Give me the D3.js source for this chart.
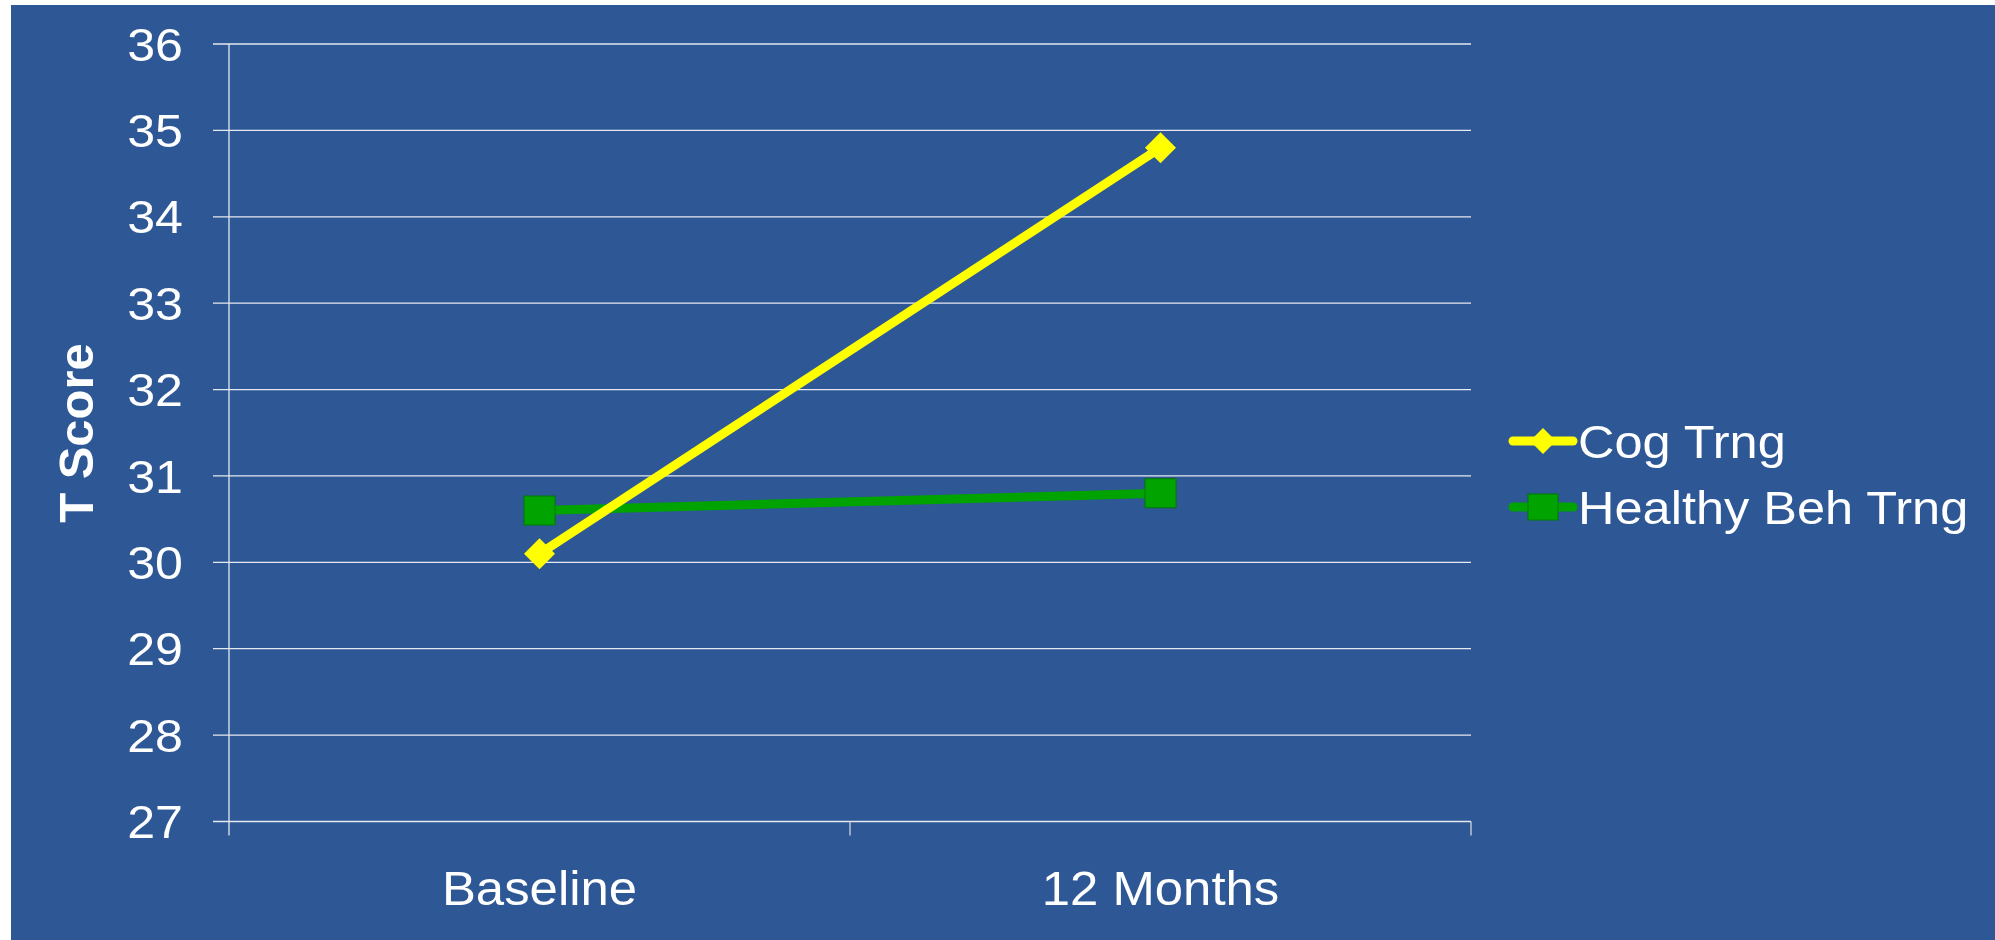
<!DOCTYPE html>
<html><head><meta charset="utf-8">
<script src="https://cdn.jsdelivr.net/npm/d3@7"></script>
<style>html,body{margin:0;padding:0;background:#fff;overflow:hidden}</style>
</head><body>
<script>
const categories = ["Baseline", "12 Months"];
const seriesNames = ["Cog Trng", "Healthy Beh Trng"];
const cogTrng = [30.1, 34.8];
const healthyBehTrng = [30.6, 30.8];
const yTicks = [27, 28, 29, 30, 31, 32, 33, 34, 35, 36];
const yLabel = "T Score";

const W = 1995, H = 940;
const svg = d3.select("body").append("svg").attr("width", W).attr("height", H);
const font = "'Liberation Sans', Arial, sans-serif";

svg.append("rect").attr("x", 11).attr("y", 5).attr("width", W - 11).attr("height", H - 5).attr("fill", "#2D5795");

const x = d3.scaleBand().domain(categories).range([229, 1471]).paddingInner(0).paddingOuter(0);
const y = d3.scaleLinear().domain([27, 36]).range([821.5, 44]);
const cx = c => x(c) + x.bandwidth() / 2;

// gridlines
const g = svg.append("g");
g.selectAll("line.grid").data(yTicks).join("line")
  .attr("x1", 213).attr("x2", 1471)
  .attr("y1", d => y(d)).attr("y2", d => y(d))
  .attr("stroke", "#e6e9ef").attr("stroke-width", 1.3);

// y axis line
g.append("line").attr("x1", 229).attr("x2", 229).attr("y1", y(36)).attr("y2", y(27) + 14)
  .attr("stroke", "#e6e9ef").attr("stroke-width", 1.3);
// x ticks at band boundaries
const bounds = [x(categories[0]), x(categories[1]), x(categories[1]) + x.bandwidth()];
g.selectAll("line.xt").data(bounds.slice(1)).join("line")
  .attr("x1", d => d).attr("x2", d => d).attr("y1", y(27)).attr("y2", y(27) + 14)
  .attr("stroke", "#d0d4dc").attr("stroke-width", 1.3);

// y tick labels
g.selectAll("text.yl").data(yTicks).join("text")
  .attr("transform", d => `translate(183,${y(d)}) scale(1.09,1)`).attr("dy", "0.36em")
  .attr("text-anchor", "end").attr("fill", "#fff")
  .style("font-family", font).style("font-size", "46px")
  .text(d => d);

// x labels
g.selectAll("text.xl").data(categories).join("text")
  .attr("transform", d => `translate(${cx(d)},905) scale(1.06,1)`)
  .attr("text-anchor", "middle").attr("fill", "#fff")
  .style("font-family", font).style("font-size", "48px")
  .text(d => d);

// y title
svg.append("text").attr("transform", "translate(93,433) rotate(-90)")
  .attr("text-anchor", "middle").attr("fill", "#fff")
  .style("font-family", font).style("font-size", "49px").style("font-weight", "bold")
  .text(yLabel);

const line = d3.line().x((d, i) => cx(categories[i])).y(d => y(d));

// green series
svg.append("path").datum(healthyBehTrng).attr("d", line)
  .attr("fill", "none").attr("stroke", "#00A300").attr("stroke-width", 9);
svg.selectAll("rect.gm").data(healthyBehTrng).join("rect")
  .attr("x", (d, i) => cx(categories[i]) - 15.5).attr("y", d => y(d) - 14.5)
  .attr("width", 31).attr("height", 29)
  .attr("fill", "#00A300").attr("stroke", "#007a00").attr("stroke-width", 1);

// yellow series
svg.append("path").datum(cogTrng).attr("d", line)
  .attr("fill", "none").attr("stroke", "#FFFF00").attr("stroke-width", 9);
const diamond = (px, py, r) => `M${px},${py - r}L${px + r},${py}L${px},${py + r}L${px - r},${py}Z`;
svg.selectAll("path.ym").data(cogTrng).join("path")
  .attr("d", (d, i) => diamond(cx(categories[i]), y(d), 15.5))
  .attr("fill", "#FFFF00");

// legend
const legY = [441, 507];
const lg = svg.append("g");
lg.selectAll("line.ll").data(seriesNames).join("line")
  .attr("x1", 1513).attr("x2", 1573).attr("y1", (d, i) => legY[i]).attr("y2", (d, i) => legY[i])
  .attr("stroke", (d, i) => i === 0 ? "#FFFF00" : "#00A300").attr("stroke-width", 9)
  .attr("stroke-linecap", "round");
lg.append("path").attr("d", diamond(1543, legY[0], 13)).attr("fill", "#FFFF00");
lg.append("rect").attr("x", 1528).attr("y", legY[1] - 13).attr("width", 30).attr("height", 26)
  .attr("fill", "#00A300").attr("stroke", "#007a00").attr("stroke-width", 1);
lg.selectAll("text.lt").data(seriesNames).join("text")
  .attr("transform", (d, i) => `translate(1578,${legY[i]}) scale(1.075,1)`).attr("dy", "0.36em")
  .attr("fill", "#fff").style("font-family", font).style("font-size", "47px")
  .text(d => d);
</script>
</body></html>
